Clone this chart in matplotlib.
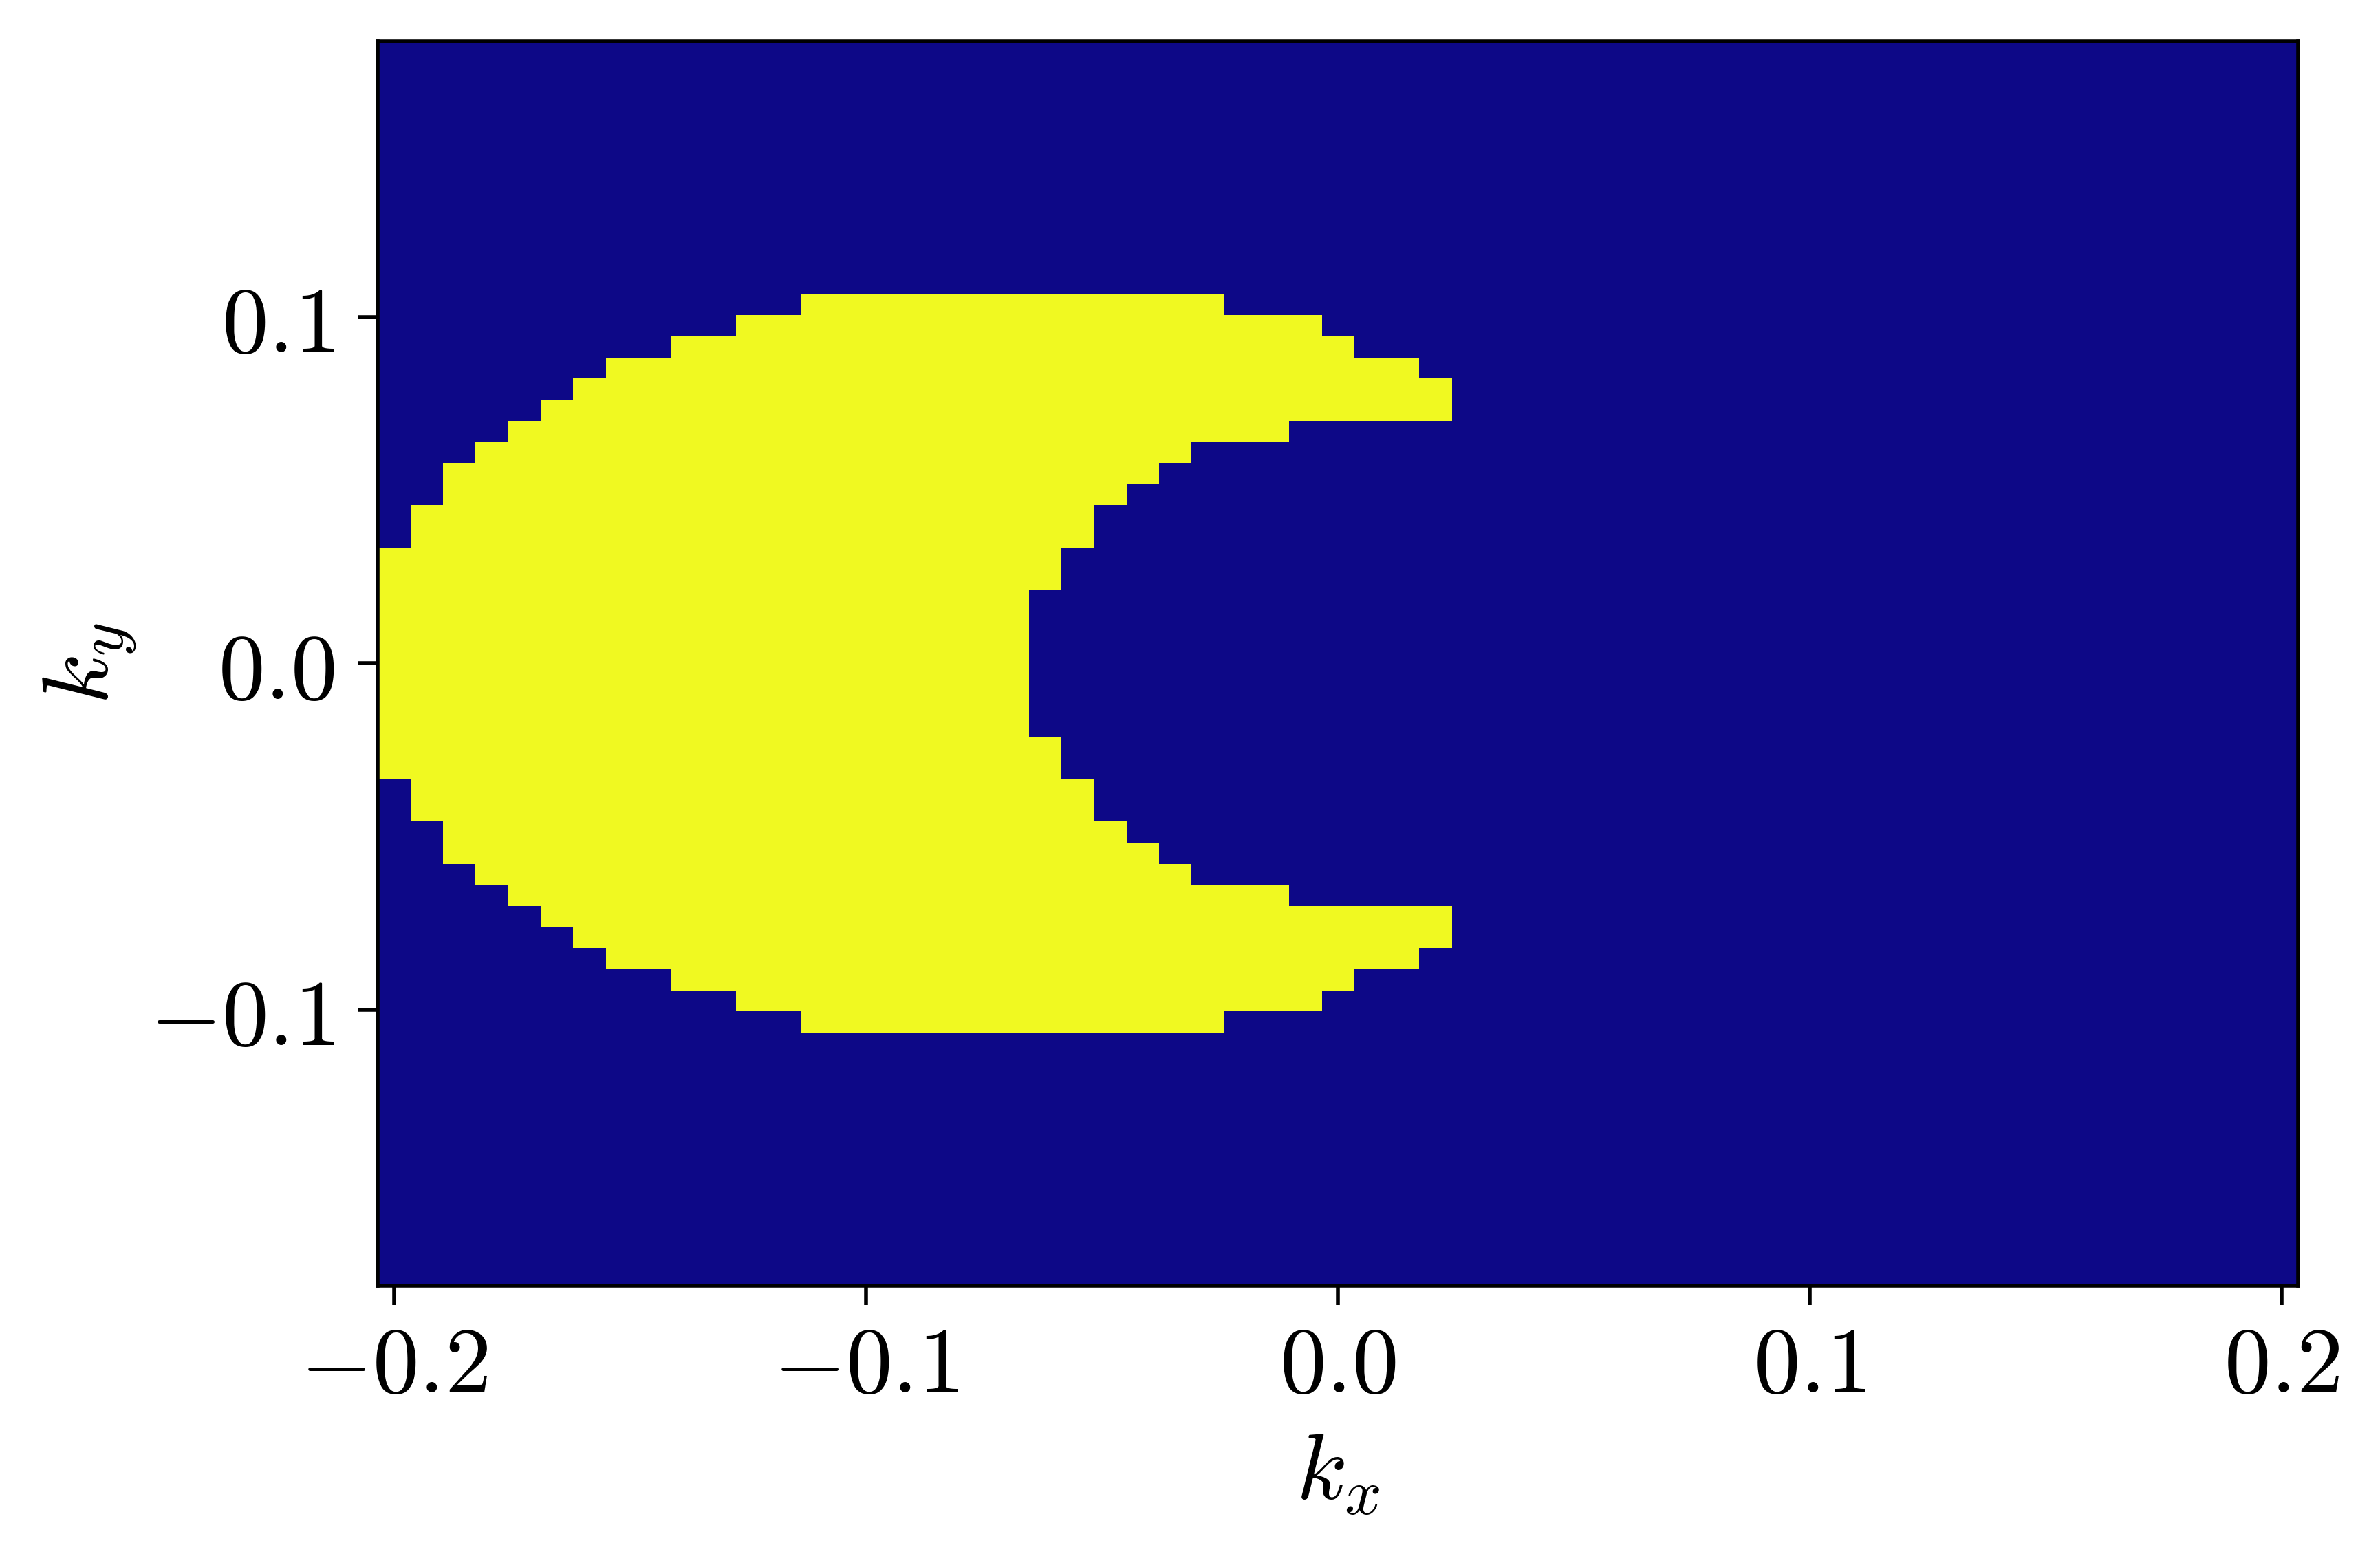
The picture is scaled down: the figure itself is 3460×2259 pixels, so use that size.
import numpy as np
import matplotlib
matplotlib.use('Agg')
import matplotlib.pyplot as plt

plt.rcParams['mathtext.fontset'] = 'cm'
plt.rcParams['font.family'] = 'serif'
plt.rcParams['font.serif'] = ['DejaVu Serif']

# grid of k-points (cell centres)
kx = np.linspace(-0.2, 0.2, 59)
ky = np.linspace(-0.1767, 0.1767, 59)

# upper half of the crescent (row 0 is ky = 0), symmetric in ky
# first and last yellow column index in each row
row_start = [0, 0, 0, 0, 0, 0, 1, 1, 2, 2, 3, 4, 5, 6, 7, 9, 11, 13]
row_end = [19, 19, 19, 19, 20, 20, 21, 21, 22, 23, 24, 27, 32, 32, 31, 29, 28, 25]

xtick_vals = [-0.2, -0.1, 0.0, 0.1, 0.2]
xtick_labels = [r'$-0.2$', r'$-0.1$', r'$0.0$', r'$0.1$', r'$0.2$']
ytick_vals = [-0.1, 0.0, 0.1]
ytick_labels = [r'$-0.1$', r'$0.0$', r'$0.1$']

mid = len(ky) // 2
Z = np.zeros((len(ky), len(kx)))
for m, (s, e) in enumerate(zip(row_start, row_end)):
    Z[mid + m, s:e + 1] = 1
    Z[mid - m, s:e + 1] = 1

fig = plt.figure(figsize=(6.92, 4.518), dpi=500)
ax = fig.add_axes([0.1588, 0.1726, 0.8068, 0.8010])
ax.pcolormesh(kx, ky, Z, cmap='plasma', shading='nearest', vmin=0, vmax=1)

ax.set_xticks(xtick_vals, xtick_labels)
ax.set_yticks(ytick_vals, ytick_labels)
ax.tick_params(labelsize=19.5, length=4.1, width=0.8)
ax.tick_params(axis='x', pad=3.4)
ax.tick_params(axis='y', pad=5)
for sp in ax.spines.values():
    sp.set_linewidth(0.8)

ax.set_xlabel(r'$k_x$', fontsize=19.5, labelpad=3.4)
ax.set_ylabel(r'$k_y$', fontsize=19.5, labelpad=2.4)

plt.savefig('out.png', dpi=500)
